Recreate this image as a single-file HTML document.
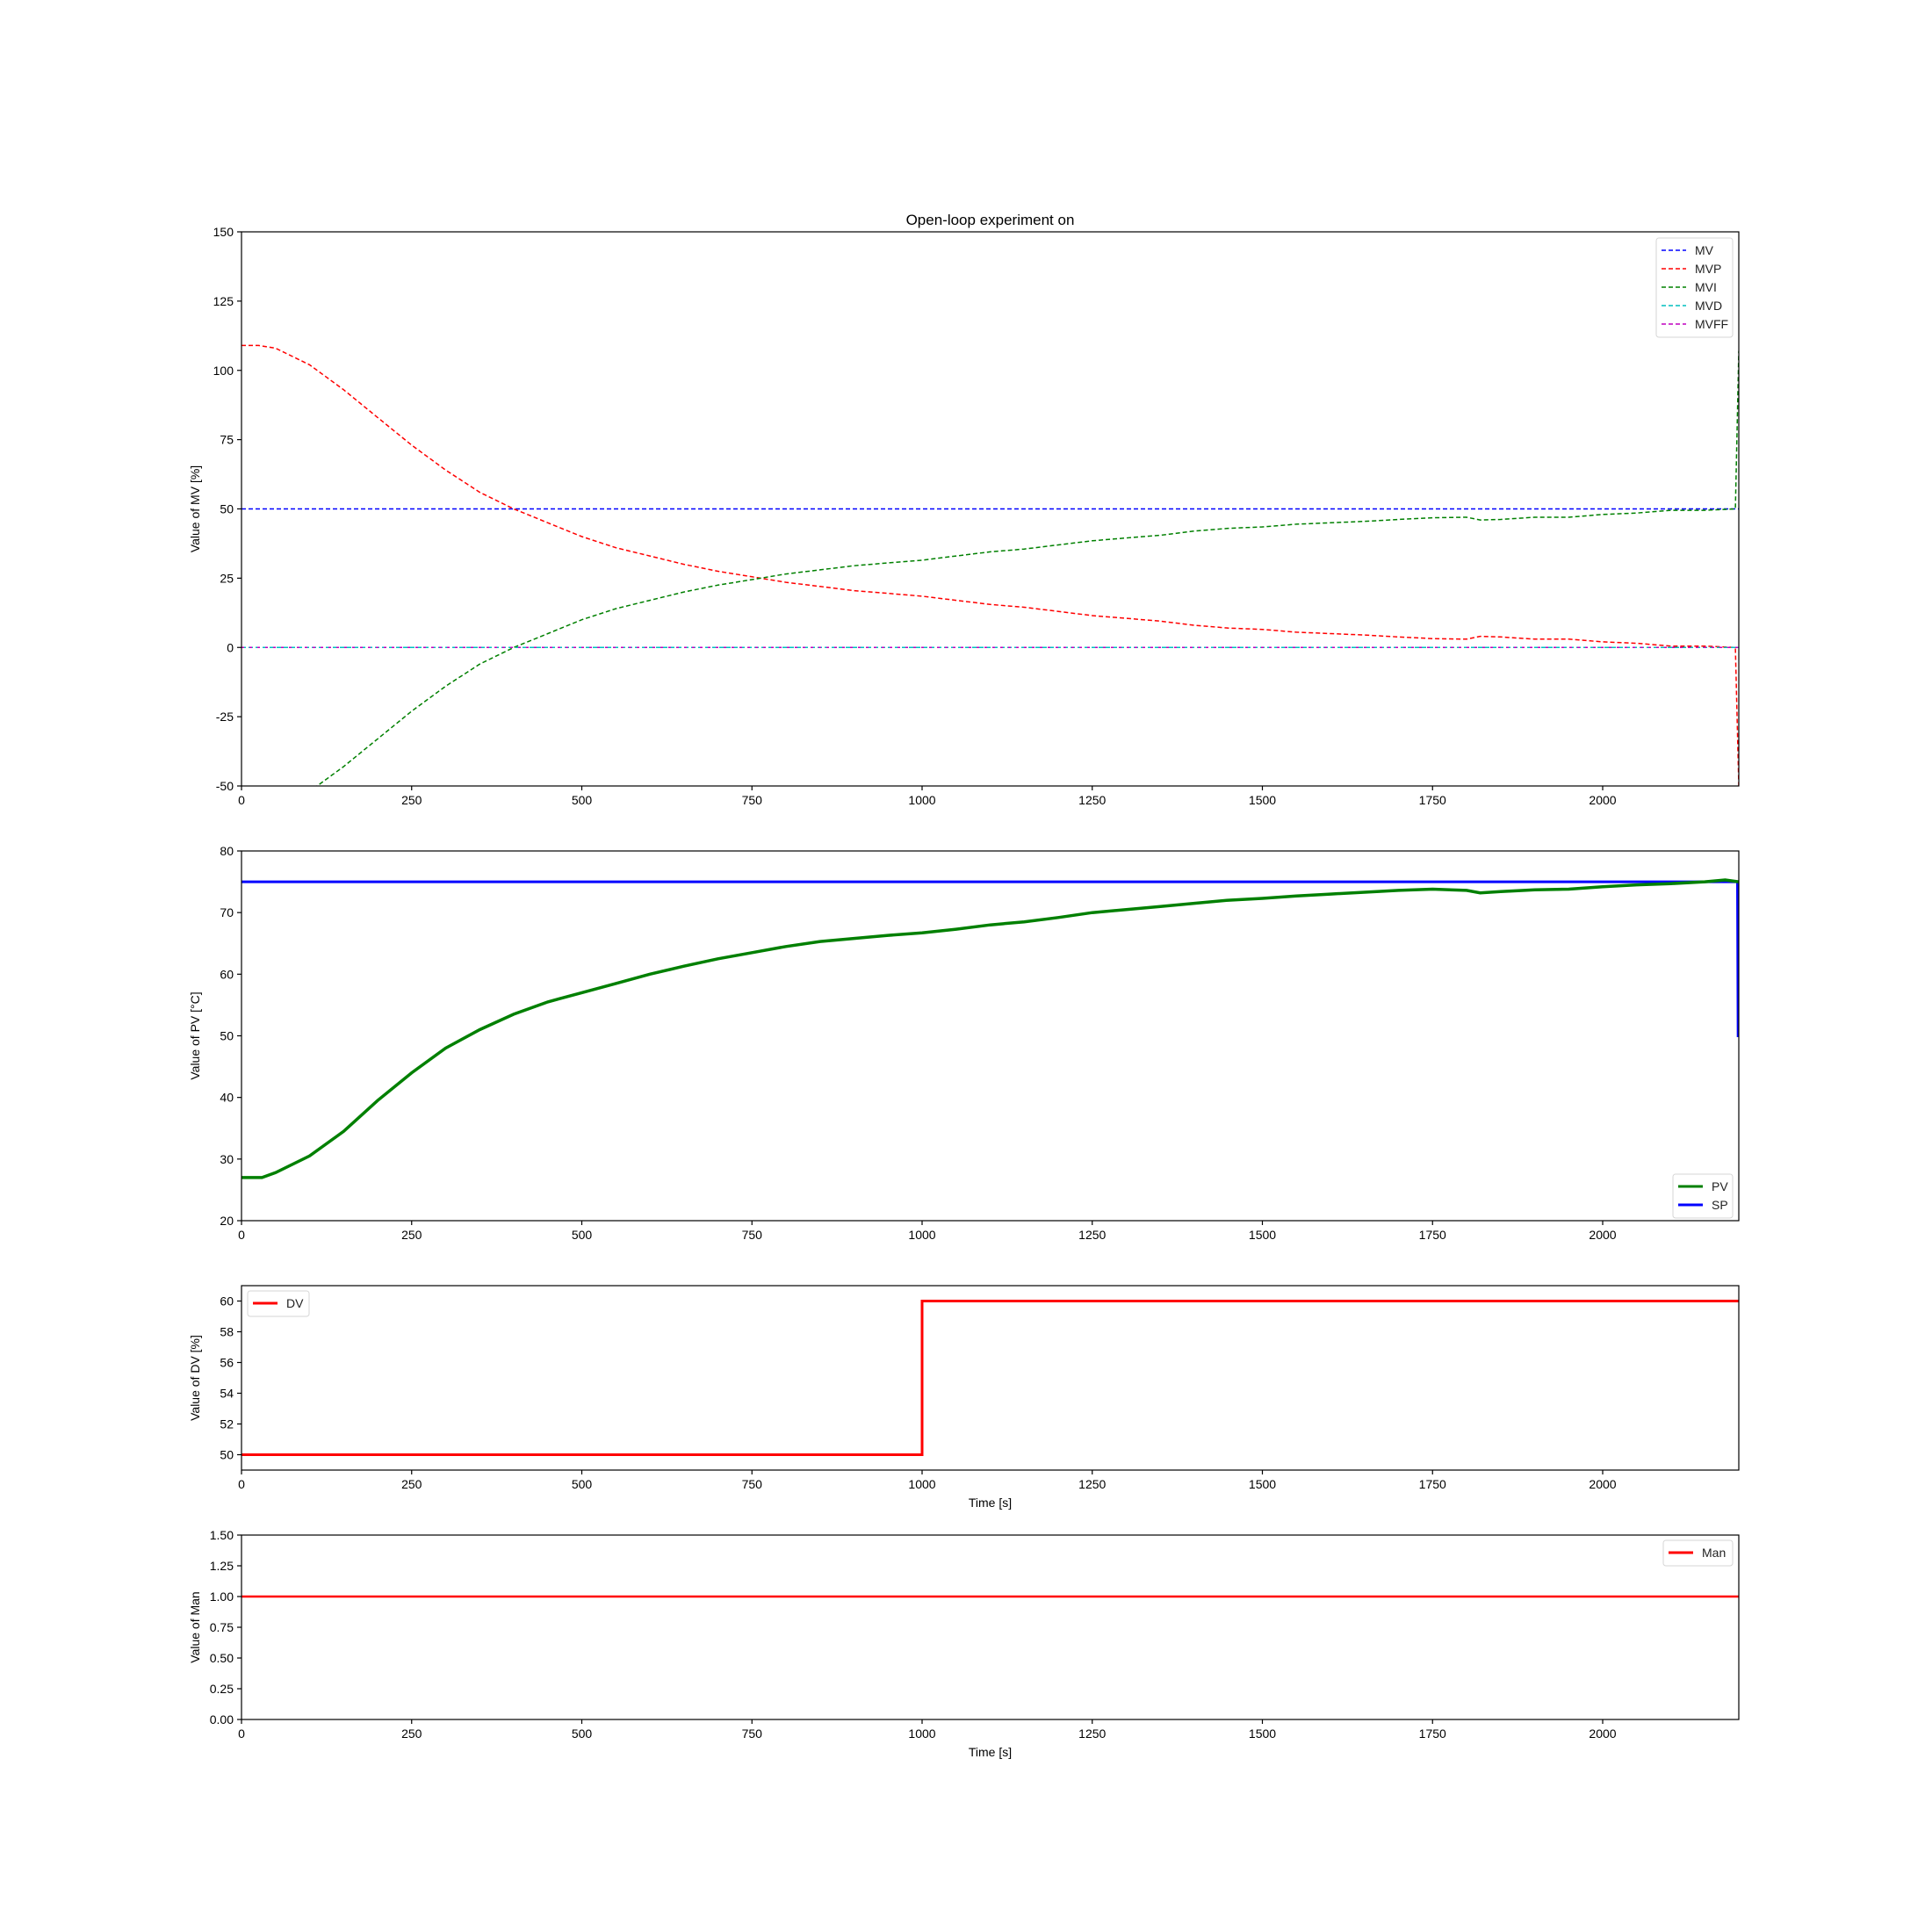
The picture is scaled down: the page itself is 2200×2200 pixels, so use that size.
<!DOCTYPE html>
<html><head><meta charset="utf-8"><style>
body{margin:0;background:#fff}svg{display:block;font-family:"Liberation Sans","DejaVu Sans",sans-serif}
</style></head><body>
<svg id="c" width="2200" height="2200" viewBox="0 0 2200 2200"></svg>
<script>
const tMV=[0,25,50,100,150,200,250,300,350,400,450,500,550,600,650,700,750,800,850,900,950,1000,1050,1100,1150,1200,1250,1300,1350,1400,1450,1500,1550,1600,1650,1700,1750,1800,1820,1850,1900,1950,2000,2050,2100,2150,2195,2200];
const mvpVals=[109,109,108,102,93,83,73,64,56,50,45,40,36,33,30,27.5,25.5,23.5,22,20.5,19.5,18.5,17,15.5,14.5,13,11.5,10.5,9.5,8,7,6.5,5.5,5,4.5,3.8,3.2,3,4,3.8,3,3,2,1.5,0.5,0.5,0,-50];
const mviVals=[-59,-59,-58,-52,-43,-33,-23,-14,-6,0,5,10,14,17,20,22.5,24.5,26.5,28,29.5,30.5,31.5,33,34.5,35.5,37,38.5,39.5,40.5,42,43,43.5,44.5,45,45.5,46.2,46.8,47,46,46.2,47,47,48,48.5,49.5,49.5,50,107];
const mvConst=50, mvdConst=0, mvffConst=0;
const tPV=[0,30,50,100,150,200,250,300,350,400,450,500,550,600,650,700,750,800,850,900,950,1000,1050,1100,1150,1200,1250,1300,1350,1400,1450,1500,1550,1600,1650,1700,1750,1800,1820,1850,1900,1950,2000,2050,2100,2150,2180,2200];
const pvVals=[27,27,27.8,30.5,34.5,39.5,44,48,51,53.5,55.5,57,58.5,60,61.3,62.5,63.5,64.5,65.3,65.8,66.3,66.7,67.3,68,68.5,69.2,70,70.5,71,71.5,72,72.3,72.7,73,73.3,73.6,73.8,73.6,73.2,73.4,73.7,73.8,74.2,74.5,74.7,75,75.3,75];
const tSP=[0,2198,2199,2200];const spVals=[75,75,50,50];
const tDV=[0,1000,1000,2200];const dvVals=[50,50,60,60];
const tMan=[0,2200];const manVals=[1,1];
const xTicks=[0,250,500,750,1000,1250,1500,1750,2000];
const y1Ticks=[-50,-25,0,25,50,75,100,125,150];
const y2Ticks=[20,30,40,50,60,70,80];
const y3Ticks=[50,52,54,56,58,60];
const y4Ticks=["0.00","0.25","0.50","0.75","1.00","1.25","1.50"];

const svg=document.getElementById('c');const NS='http://www.w3.org/2000/svg';
function mk(tag,at,parent){const e=document.createElementNS(NS,tag);for(const k in at)e.setAttribute(k,at[k]);(parent||svg).appendChild(e);return e;}
const L=275,R=1980;
const X=t=>L+(t/2200)*(R-L);
function axes(name,top,bot,ymin,ymax,ticks,ylabel,xlabel){
  const g=mk('g',{});
  
  
  const Y=v=>bot-(v-ymin)/(ymax-ymin)*(bot-top);
  xTicks.forEach(t=>{mk('line',{x1:X(t),x2:X(t),y1:bot,y2:bot+5,stroke:'#000','stroke-width':1.2},g);
    const tx=mk('text',{x:X(t),y:bot+21,'font-size':14,'text-anchor':'middle'},g);tx.textContent=t;
    
    });
  ticks.forEach(v=>{const n=+v;mk('line',{x1:L-5,x2:L,y1:Y(n),y2:Y(n),stroke:'#000','stroke-width':1.2},g);
    const tx=mk('text',{x:L-9,y:Y(n)+5,'font-size':14,'text-anchor':'end'},g);tx.textContent=v;
    
    });
  const yl=mk('text',{x:0,y:0,'font-size':14,'text-anchor':'middle',transform:`translate(${L-48},${(top+bot)/2}) rotate(-90)`},g);yl.textContent=ylabel;
  
  
  if(xlabel){const xl=mk('text',{x:(L+R)/2,y:bot+42,'font-size':14,'text-anchor':'middle'},g);xl.textContent=xlabel;
    
    }
  const clip=mk('clipPath',{id:'cl'+name},g);mk('rect',{x:L,y:top,width:R-L,height:bot-top},clip);
  const plot=mk('g',{'clip-path':`url(#cl${name})`},g);
  return {g,plot,Y,top,bot};
}
function line(ax,name,ts,vs,color,w,dash){
  const d=ts.map((t,i)=>(i?'L':'M')+X(t).toFixed(1)+','+ax.Y(vs[i]).toFixed(1)).join('');
  const p=mk('path',{d,fill:'none',stroke:color,'stroke-width':w,'stroke-dasharray':dash||'none'},ax.plot);
  
  
}
function frame(ax){mk('rect',{x:L,y:ax.top,width:R-L,height:ax.bot-ax.top,fill:'none',stroke:'#000','stroke-width':1.2},ax.g);}
function legend(ax,name,x,y,w,items,dash,lw){
  const g=mk('g',{},ax.g);
  
  
  mk('rect',{x,y,width:w,height:items.length*21+8,rx:3,fill:'#fff','fill-opacity':0.8,stroke:'#d6d6d6'},g);
  items.forEach((it,i)=>{const yy=y+14+i*21;
    mk('line',{x1:x+6,x2:x+34,y1:yy,y2:yy,stroke:it[1],'stroke-width':lw,'stroke-dasharray':dash||'none'},g);
    const t=mk('text',{x:x+44,y:yy+5,'font-size':14,fill:'#222'},g);t.textContent=it[0];
    
    });
}
const title=mk('text',{x:(L+R)/2,y:256,'font-size':17,'text-anchor':'middle'});title.textContent='Open-loop experiment on';



const a1=axes('mv-axes',264,895,-50,150,y1Ticks,'Value of MV [%]');
line(a1,'mv-line',[0,2200],[mvConst,mvConst],'blue',1.5,'5,3');
line(a1,'mvp-line',tMV,mvpVals,'red',1.5,'5,3');
line(a1,'mvi-line',tMV,mviVals,'green',1.5,'5,3');
line(a1,'mvd-line',[0,2200],[mvdConst,mvdConst],'#00bfbf',1.5,'5,3');
line(a1,'mvff-line',[0,2200],[mvffConst,mvffConst],'#bf00bf',1.5,'3,6');
frame(a1);
legend(a1,'mv-legend',1886,271,87,[['MV','blue'],['MVP','red'],['MVI','green'],['MVD','#00bfbf'],['MVFF','#bf00bf']],'5,3',1.5);

const a2=axes('pv-axes',969,1390,20,80,y2Ticks,'Value of PV [°C]');
line(a2,'sp-line',tSP,spVals,'blue',3);
line(a2,'pv-line',tPV,pvVals,'green',3.5);
frame(a2);
legend(a2,'pv-legend',1905,1337,68,[['PV','green'],['SP','blue']],null,3);

const a3=axes('dv-axes',1464,1674,49,61,y3Ticks,'Value of DV [%]','Time [s]');
line(a3,'dv-line',tDV,dvVals,'red',3);
frame(a3);
legend(a3,'dv-legend',282,1470,70,[['DV','red']],null,3);

const a4=axes('man-axes',1748,1958,0,1.5,y4Ticks,'Value of Man','Time [s]');
line(a4,'man-line',tMan,manVals,'red',2.5);
frame(a4);
legend(a4,'man-legend',1894,1754,79,[['Man','red']],null,3);
</script>
</body></html>
